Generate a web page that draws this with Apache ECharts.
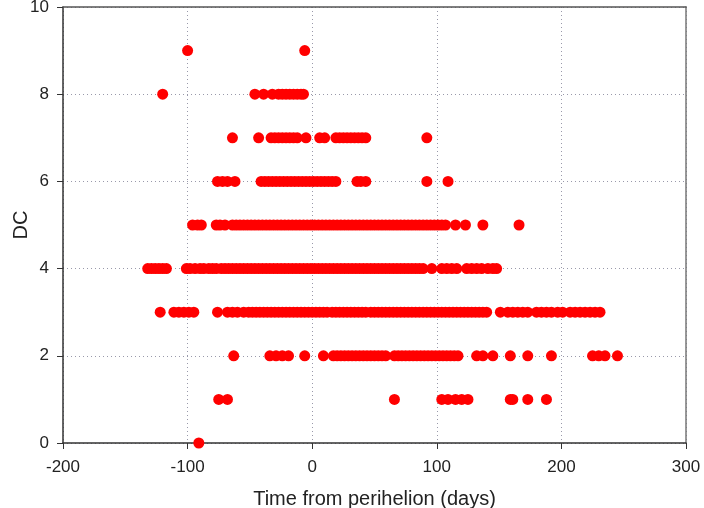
<!DOCTYPE html>
<html>
<head>
<meta charset="utf-8">
<script src="https://cdn.jsdelivr.net/npm/echarts@6/dist/echarts.min.js"></script>
<style>html,body{margin:0;padding:0;background:#fff}#c{width:704px;height:508px}</style>
</head>
<body>
<div id="c"></div>
<script>
// Days from perihelion for each DC level
var dc0 = [-91];
var dc1 = [-75, -68, 66, 104, 109, 115, 120, 125, 159, 161, 173, 188];
var dc2 = [-63, -34, -29, -24, -19, -6, 9, 17, 20, 23, 26, 29, 32, 35, 38, 41, 44, 47, 50, 53, 56, 59,
  66, 69, 72, 75, 78, 81, 84, 87, 90, 93, 96, 99, 102, 105, 108, 111, 114, 117,
  132, 137, 145, 159, 173, 192, 225, 230, 235, 245];
var dc3 = [-122, -111, -107, -103, -99, -95, -76, -68, -64, -60, -55,
  -51, -48, -45, -42, -39, -36, -33, -30, -27, -24, -21, -18, -15, -12, -9, -6, -3, 0, 3, 6, 9, 12,
  16, 19, 22, 25, 28, 31, 34, 37, 40, 43,
  47, 50, 53, 56, 59, 62, 65, 68, 71, 74, 77, 80, 83, 86, 89, 92, 95, 98, 101, 104, 107, 110, 113, 116, 119, 122, 125, 128, 131, 134, 137, 140,
  151, 157, 161, 165, 169, 173, 180, 184, 188, 192, 197, 201, 207, 211, 215, 219, 223, 227, 231];
var dc4 = [-132, -129, -126, -123, -120, -117, -101, -98, -94, -90, -87, -83, -80, -77, -73, -70, -67,
  -64, -61, -58, -55, -52, -49, -46, -43, -40, -37, -34, -31, -28, -25, -22, -19, -16, -13, -10, -7, -4, -1,
  2, 5, 8, 11, 14, 17, 20, 23, 26, 29, 32, 35, 38, 41, 44, 47, 50, 53, 56, 59, 62, 65, 68, 71, 74, 77, 80, 83, 86, 89,
  96, 104, 108, 112, 116, 124, 128, 132, 136, 141, 145, 148];
var dc5 = [-96, -92, -89, -77, -74, -70,
  -64, -61, -58, -55, -52, -49, -46, -43, -40, -37, -34, -31, -28, -25, -22, -19, -16, -13, -10, -7, -4, -1,
  2, 5, 8, 11, 14, 17, 20, 23, 26, 29, 32, 35, 38, 41, 44, 47, 50, 53, 56, 59, 62, 65, 68, 71, 74, 77, 80, 83,
  86, 89, 92, 95, 98, 101, 104, 107, 115, 123, 137, 166];
var dc6 = [-76, -72, -68, -62, -41, -38, -35, -32, -29, -26, -23, -20, -17, -14, -11, -8, -5, -2, 1, 4, 7, 10, 13, 16, 19,
  36, 39, 43, 92, 109];
var dc7 = [-64, -43, -33, -30, -27, -24, -21, -18, -15, -12, -5, 6, 10, 19, 22, 25, 28, 31, 34, 37, 40, 43, 92];
var dc8 = [-120, -46, -39, -32, -27, -24, -21, -18, -15, -12, -9, -7];
var dc9 = [-100, -6];

var levels = [dc0, dc1, dc2, dc3, dc4, dc5, dc6, dc7, dc8, dc9];
var points = [];
levels.forEach(function (arr, dc) {
  arr.forEach(function (d) { points.push([d, dc]); });
});

var font = 'Liberation Sans, Arial, sans-serif';
var chart = echarts.init(document.getElementById('c'), null, {renderer: 'canvas'});
chart.setOption({
  animation: false,
  backgroundColor: '#fff',
  grid: {left: 63, right: 18, top: 7, bottom: 65, containLabel: false, outerBoundsMode: 'none'},
  xAxis: [{
    type: 'value', min: -200, max: 300, interval: 100,
    name: 'Time from perihelion (days)', nameLocation: 'middle', nameGap: 46, nameMoveOverlap: false,
    nameTextStyle: {fontFamily: font, fontSize: 20, color: '#222'},
    axisLine: {show: true, onZero: false, lineStyle: {color: '#333', width: 1.5}},
    axisTick: {show: true, length: 6, lineStyle: {color: '#333'}},
    axisLabel: {fontFamily: font, fontSize: 17, color: '#222', margin: 16},
    splitLine: {show: true, lineStyle: {color: '#99a', type: [1, 3], width: 1}}
  }, {
    type: 'value', position: 'top', min: -200, max: 300,
    axisLine: {show: true, onZero: false, lineStyle: {color: '#555', width: 1.5}},
    axisTick: {show: false}, axisLabel: {show: false}, splitLine: {show: false}
  }],
  yAxis: [{
    type: 'value', min: 0, max: 10, interval: 2,
    name: 'DC', nameLocation: 'middle', nameGap: 32, nameRotate: 90, nameMoveOverlap: false,
    nameTextStyle: {fontFamily: font, fontSize: 20, color: '#222'},
    axisLine: {show: true, onZero: false, lineStyle: {color: '#333', width: 1.5}},
    axisTick: {show: true, length: 6, lineStyle: {color: '#333'}},
    axisLabel: {fontFamily: font, fontSize: 17, color: '#222', margin: 14},
    splitLine: {show: true, lineStyle: {color: '#99a', type: [1, 3], width: 1}}
  }, {
    type: 'value', position: 'right', min: 0, max: 10,
    axisLine: {show: true, onZero: false, lineStyle: {color: '#777', width: 1.5}},
    axisTick: {show: false}, axisLabel: {show: false}, splitLine: {show: false}
  }],
  series: [{
    type: 'scatter',
    xAxisIndex: 0, yAxisIndex: 0,
    data: points,
    symbol: 'circle',
    symbolSize: 11,
    itemStyle: {color: '#ff0000', opacity: 1},
    clip: false
  }]
});
</script>
</body>
</html>
